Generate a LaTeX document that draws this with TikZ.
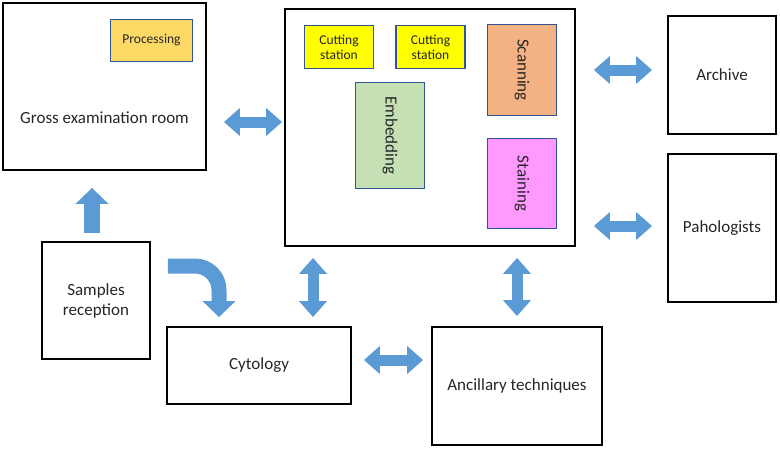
\documentclass[tikz,border=0pt]{standalone}
\usepackage{fontspec}
\setmainfont{Carlito}
\usepackage{tikz}
\usetikzlibrary{arrows.meta}
\usetikzlibrary{positioning}
\definecolor{arrowblue}{HTML}{5B9BD5}
\definecolor{unitborder}{HTML}{2F5597}
\definecolor{textgray}{HTML}{262626}
\definecolor{procfill}{HTML}{FFD966}
\definecolor{cutfill}{HTML}{FFFF00}
\definecolor{scanfill}{HTML}{F4B183}
\definecolor{embfill}{HTML}{C5E0B4}
\definecolor{stainfill}{HTML}{FF99FF}
\newcommand{\roomfont}{\fontsize{17}{20}\selectfont\color{textgray}}
\newcommand{\unitfont}{\fontsize{13.5}{15}\selectfont\color{textgray}}
\tikzset{
	room/.style={
		rectangle,
		draw=black,
		line width=1.8pt,
		inner sep=2pt,
		align=center,
		font=\roomfont,
	},
	unit/.style={
		rectangle,
		draw=unitborder,
		line width=1.5pt,
		inner sep=1pt,
		align=center,
		font=\unitfont,
	},
	dbl/.style={
		draw=arrowblue,
		line width=11pt,
		{Triangle[width=27pt,length=16pt]}-{Triangle[width=27pt,length=16pt]},
	},
	onearrow/.style={
		draw=arrowblue,
		line width=16pt,
		-{Triangle[width=32pt,length=16pt]},
	},
}

\begin{document}
\begin{tikzpicture}[x=1pt,y=-1pt]
	\useasboundingbox (0,0) rectangle (780,450);
	
	\node[room, minimum width=203pt, minimum height=167pt,
	label={[font=\roomfont, yshift=-31.5pt]center:Gross examination room}] (GROSS) at (104.5,86.5) {};
	
	\node[unit, fill=procfill, minimum width=82pt, minimum height=42pt,
	above right=46pt and 47pt of GROSS.center,
	anchor=center] (PROC) {Processing};
	
	\node[room, minimum width=290pt, minimum height=237pt,
	below right=41pt and 325.5pt of GROSS.center,
	anchor=center] (LAB) {};
	
	\node[unit, fill=cutfill, minimum width=69pt, minimum height=43pt,
	above left=80.5pt and 91pt of LAB.center,
	anchor=center] (CUTA) {Cutting\\station};
	
	\node[unit, fill=cutfill, minimum width=69pt, minimum height=43pt,
	right=91.5pt of CUTA.center,
	anchor=center] (CUTB) {Cutting\\station};
	
	\node[unit, fill=scanfill, font=\roomfont, minimum width=69pt, minimum height=91pt,
	above right=57.5pt and 92pt of LAB.center,
	anchor=center] (SCAN) {\rotatebox{-90}{Scanning}};
	
	\node[unit, fill=embfill, font=\roomfont, minimum width=69pt, minimum height=106pt,
	below left=8pt and 40pt of LAB.center,
	anchor=center] (EMB) {\rotatebox{-90}{Embedding}};
	
	\node[unit, fill=stainfill, font=\roomfont, minimum width=69pt, minimum height=90pt,
	below=113.5pt of SCAN.center,
	anchor=center] (STAIN) {\rotatebox{-90}{Staining}};
	
	\node[room, minimum width=108pt, minimum height=118pt,
	above right=52.5pt and 292pt of LAB.center,
	anchor=center] (ARCH) {Archive};
	
	\node[room, minimum width=108pt, minimum height=148pt,
	below=153pt of ARCH.center,
	anchor=center] (PAH) {Pahologists};
	
	\node[room, minimum width=108pt, minimum height=117pt,
	below left=214pt and 8.5pt of GROSS.center,
	anchor=center] (SAMP) {Samples\\reception};
	
	\node[room, minimum width=184pt, minimum height=77pt,
	below right=65pt and 163pt of SAMP.center,
	anchor=center] (CYTO) {Cytology};
	
	\node[room, minimum width=170pt, minimum height=118pt,
	below right=20.5pt and 258pt of CYTO.center,
	anchor=center] (ANC) {Ancillary techniques};
	
	% block arrows
	\draw[dbl, shorten <=17pt, shorten >=2pt] (GROSS.east |- 0,122) -- (LAB.west |- 0,122);
	\draw[dbl, shorten <=18pt, shorten >=15pt] (LAB.east |- 0,70) -- (ARCH.west |- 0,70);
	\draw[dbl, shorten <=18pt, shorten >=15pt] (LAB.east |- 0,226) -- (PAH.west |- 0,226);
	\draw[dbl, shorten <=11pt, shorten >=9pt] (LAB.south -| 313,0) -- (CYTO.north -| 313,0);
	\draw[dbl, shorten <=11pt, shorten >=10pt] (LAB.south -| ANC.north) -- (ANC.north);
	\draw[dbl, shorten <=12pt, shorten >=8pt] (CYTO.east |- 0,360) -- (ANC.west |- 0,360);
	\draw[onearrow, shorten <=8pt, shorten >=17pt] (SAMP.north -| 92,0) -- (GROSS.south -| 92,0);
	\draw[onearrow, line width=15pt, rounded corners=24pt, shorten <=17pt, shorten >=9pt]
	(SAMP.east |- 0,266) -| (CYTO.north -| 219,0);
	
\end{tikzpicture}
\end{document}
